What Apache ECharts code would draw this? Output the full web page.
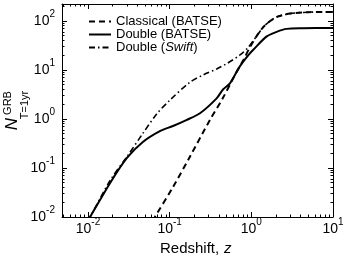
<!DOCTYPE html>
<html><head><meta charset="utf-8">
<script src="https://cdn.jsdelivr.net/npm/echarts@6/dist/echarts.min.js"></script>
<style>html,body{margin:0;padding:0;background:#fff}#c{width:348px;height:258px}</style>
</head><body><div id="c"></div>
<script>
// ---- data ----
const classicalZ = [0.062, 0.066, 0.111, 0.177, 0.311, 0.45, 0.62, 0.8, 0.95, 1.15, 1.4, 1.7, 2.1, 3.0, 5.0, 10];
const classicalN = [0.0083, 0.01, 0.042, 0.17, 0.95, 2.7, 7.5, 16, 28, 48, 75, 100, 123, 142, 151, 153];

const doubleBatseZ = [0.0098, 0.0106, 0.0186, 0.030, 0.047, 0.075, 0.11, 0.16, 0.235, 0.376, 0.45, 0.547, 0.72, 0.96, 1.05, 1.53, 2.04, 2.7, 4.27, 10];
const doubleBatseN = [0.0085, 0.01, 0.049, 0.16, 0.34, 0.56, 0.72, 0.95, 1.31, 2.64, 4.0, 5.35, 11.7, 21.9, 25.6, 48, 60, 69, 71, 72];

const doubleSwiftZ = [0.0098, 0.0106, 0.0186, 0.030, 0.0475, 0.069, 0.1, 0.177, 0.26, 0.376, 0.5, 0.72, 0.9, 1.15, 1.4, 1.7, 2.1, 3.0, 5.0, 10];
const doubleSwiftN = [0.0085, 0.01, 0.055, 0.17, 0.52, 1.25, 2.4, 5.6, 8.0, 10.5, 13.5, 20, 28, 48, 75, 100, 123, 142, 151, 153];

const seriesNames = ['Classical (BATSE)', 'Double (BATSE)', 'Double (Swift)'];
const xMajorTicks = [0.01, 0.1, 1, 10];
const yMajorTicks = [0.01, 0.1, 1, 10, 100];
const xMin = 0.00481, xMax = 10, yMin = 0.01, yMax = 222;

function minorTicks(lo, hi) {
  const out = [];
  for (let e = -4; e <= 3; e++) for (let k = 2; k <= 9; k++) {
    const v = k * Math.pow(10, e);
    if (v > lo * 1.0001 && v < hi * 0.9999) out.push(+v.toPrecision(3));
  }
  return out;
}
const xMinorTicks = minorTicks(xMin, xMax);
const yMinorTicks = minorTicks(yMin, yMax);

const pairs = (xs, ys) => xs.map((x, i) => [x, ys[i]]);
const FONT = 'Liberation Sans';
const TICK = '#000';
const supFmt = v => { const e = Math.round(Math.log10(v)); return '{b|10}{s|' + e + '}'; };
const rich = {
  b: { fontFamily: FONT, fontSize: 14, color: '#000', lineHeight: 16 },
  s: { fontFamily: FONT, fontSize: 10, color: '#000', verticalAlign: 'bottom', padding: [0, 0, 10, 0], lineHeight: 10 }
};

const rect = { left: 62, right: 15, top: 4, bottom: 41 };
const grids = [0, 1, 2, 3].map(() => Object.assign({}, rect));

function ax(gridIndex, pos, min, max, ticks, len, showLine, labels, margin) {
  const a = {
    gridIndex: gridIndex, type: 'log', min: min, max: max, position: pos,
    splitLine: { show: false },
    axisLine: { show: showLine, lineStyle: { color: '#000', width: 1 } },
    axisTick: { show: true, inside: true, length: len, customValues: ticks, lineStyle: { color: TICK, width: 1 } },
    axisLabel: { show: false }
  };
  if (labels) a.axisLabel = { show: true, customValues: ticks, formatter: supFmt, rich: rich, margin: margin };
  return a;
}

const xAxes = [
  ax(0, 'bottom', xMin, xMax, xMajorTicks, 5, true, true, 4),
  ax(1, 'bottom', xMin, xMax, xMinorTicks, 2.5, false, false),
  ax(2, 'top', xMin, xMax, xMajorTicks, 5, true, false),
  ax(3, 'top', xMin, xMax, xMinorTicks, 2.5, false, false)
];
const yAxes = [
  ax(0, 'left', yMin, yMax, yMajorTicks, 5, true, true, 7),
  ax(1, 'left', yMin, yMax, yMinorTicks, 2.5, false, false),
  ax(2, 'right', yMin, yMax, yMajorTicks, 5, true, false),
  ax(3, 'right', yMin, yMax, yMinorTicks, 2.5, false, false)
];

const chart = echarts.init(document.getElementById('c'), null, { renderer: 'canvas' });
chart.setOption({
  animation: false,
  backgroundColor: '#fff',
  grid: grids,
  xAxis: xAxes,
  yAxis: yAxes,
  legend: {
    orient: 'vertical', left: 83, top: 10, itemWidth: 22, itemHeight: 8, itemGap: 0,
    itemStyle: { opacity: 0, borderWidth: 0 },
    textStyle: { fontFamily: FONT, fontSize: 13, lineHeight: 13, color: '#000',
      rich: { n: { fontFamily: FONT, fontSize: 13, lineHeight: 13, color: '#000' }, i: { fontFamily: FONT, fontSize: 13, lineHeight: 13, fontStyle: 'italic', color: '#000' } } },
    formatter: name => name === 'Double (Swift)' ? '{n|Double (}{i|Swift}{n|)}' : name,
    data: seriesNames
  },
  graphic: [
    { type: 'text', x: 160, y: 249, style: { text: 'Redshift, ', font: '15px "Liberation Sans"', fill: '#000', align: 'left', verticalAlign: 'middle' } },
    { type: 'text', x: 224, y: 249, style: { text: 'z', font: 'italic 15px "Liberation Sans"', fill: '#000', align: 'left', verticalAlign: 'middle' } },
    { type: 'text', x: 12, y: 124, rotation: Math.PI / 2, style: { text: 'N', font: 'italic 17px "Liberation Sans"', fill: '#000', align: 'center', verticalAlign: 'middle' } },
    { type: 'text', x: 8, y: 103, rotation: Math.PI / 2, style: { text: 'GRB', font: '11px "Liberation Sans"', fill: '#000', align: 'center', verticalAlign: 'middle' } },
    { type: 'text', x: 25, y: 105, rotation: Math.PI / 2, style: { text: 'T=1yr', font: '11px "Liberation Sans"', fill: '#000', align: 'center', verticalAlign: 'middle' } }
  ],
  series: [
    { name: seriesNames[0], type: 'line', xAxisIndex: 0, yAxisIndex: 0, data: pairs(classicalZ, classicalN),
      smooth: 0.3, symbol: 'none', clip: true, lineStyle: { color: '#000', width: 2, type: [6, 4] }, itemStyle: { color: '#000' } },
    { name: seriesNames[1], type: 'line', xAxisIndex: 0, yAxisIndex: 0, data: pairs(doubleBatseZ, doubleBatseN),
      smooth: 0.3, symbol: 'none', clip: true, lineStyle: { color: '#000', width: 2, type: 'solid' }, itemStyle: { color: '#000' } },
    { name: seriesNames[2], type: 'line', xAxisIndex: 0, yAxisIndex: 0, data: pairs(doubleSwiftZ, doubleSwiftN),
      smooth: 0.3, symbol: 'none', clip: true, lineStyle: { color: '#000', width: 1.6, type: [6, 3, 1.5, 3] }, itemStyle: { color: '#000' } }
  ]
});
</script></body></html>
